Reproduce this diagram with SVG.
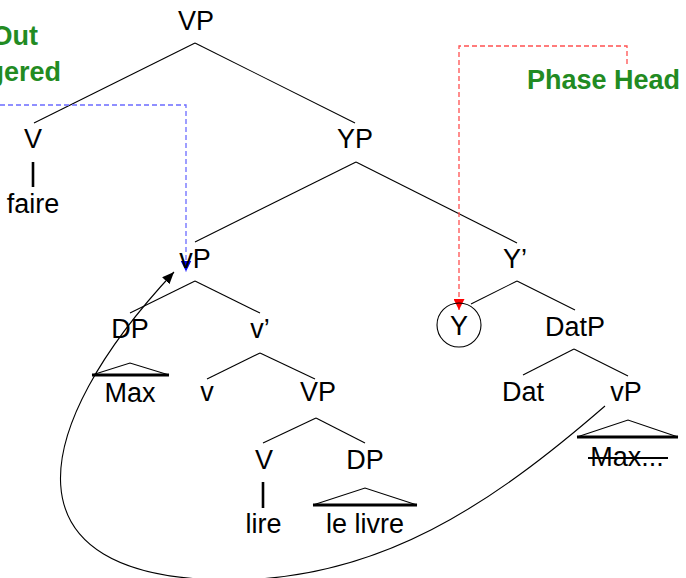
<svg xmlns="http://www.w3.org/2000/svg" width="686" height="578" viewBox="0 0 686 578">
  <style>
    text { font-family: "Liberation Sans", Arial, sans-serif; font-size: 27px; fill: #000; text-anchor: middle; }
    .lbl { font-weight: bold; fill: #228b22; }
    .edge { stroke: #000; stroke-width: 1.1; fill: none; }
    .stem { stroke: #000; stroke-width: 2.6; fill: none; }
    .tri { stroke: #000; stroke-width: 1.1; fill: none; }
    .base { stroke: #000; stroke-width: 3; }
    .move { stroke: #000; stroke-width: 1.1; fill: none; }
    .blue { stroke: #6b6bff; stroke-width: 1.3; fill: none; stroke-dasharray: 5 3; }
    .red { stroke: #ff5050; stroke-width: 1.3; fill: none; stroke-dasharray: 5 3; }
  </style>
  <defs>
    <marker id="arrBlack" markerUnits="userSpaceOnUse" viewBox="0 0 12 10" refX="12" refY="5" markerWidth="12" markerHeight="10" orient="auto">
      <path d="M0,0 L12,5 L0,10 z" fill="#000"/>
    </marker>
    <marker id="arrBlue" markerUnits="userSpaceOnUse" viewBox="0 0 11 11" refX="11" refY="5.5" markerWidth="11" markerHeight="11" orient="auto">
      <path d="M0,0 L11,5.5 L0,11 z" fill="#0000ff"/>
    </marker>
    <marker id="arrRed" markerUnits="userSpaceOnUse" viewBox="0 0 11 11" refX="11" refY="5.5" markerWidth="11" markerHeight="11" orient="auto">
      <path d="M0,0 L11,5.5 L0,11 z" fill="#ff0000"/>
    </marker>
  </defs>

  <!-- tree branches -->
  <g id="connectors">
    <line class="edge" x1="195" y1="43" x2="34" y2="123"/>
    <line class="edge" x1="195" y1="43" x2="355" y2="123"/>
    <line class="stem" x1="33" y1="162" x2="33" y2="187"/>
    <line class="edge" x1="356" y1="162" x2="195" y2="242"/>
    <line class="edge" x1="356" y1="162" x2="517" y2="243"/>
    <line class="edge" x1="195" y1="281" x2="130" y2="313"/>
    <line class="edge" x1="195" y1="281" x2="260" y2="313"/>
    <line class="edge" x1="517" y1="281" x2="471" y2="304"/>
    <line class="edge" x1="517" y1="281" x2="575" y2="310"/>
    <line class="edge" x1="260" y1="353" x2="207" y2="379"/>
    <line class="edge" x1="260" y1="353" x2="315" y2="379"/>
    <line class="edge" x1="574" y1="349" x2="523" y2="375"/>
    <line class="edge" x1="574" y1="349" x2="628" y2="376"/>
    <line class="edge" x1="316" y1="418" x2="263" y2="443"/>
    <line class="edge" x1="316" y1="418" x2="365" y2="443"/>
    <line class="stem" x1="263" y1="482" x2="263" y2="508"/>

    <!-- movement arrow from the embedded vP back up to the higher vP -->
    <path class="move" d="M605,406 C492,504 380,580 230,580 C0,580 27.2,429.2 174,272" marker-end="url(#arrBlack)"/>

    <!-- dashed pointers from the annotations -->
    <path class="blue" d="M0,105 H186 V271.5" marker-end="url(#arrBlue)"/>
    <path class="red" d="M627,64 V46 H459 V310" marker-end="url(#arrRed)"/>
  </g>

  <!-- annotations -->
  <g id="label-spellout">
    <text class="lbl" x="38" y="45" style="text-anchor:end">Out</text>
    <text class="lbl" x="61" y="81" style="text-anchor:end">gered</text>
  </g>
  <g id="label-phasehead">
    <text class="lbl" x="527" y="89" style="text-anchor:start">Phase Head</text>
  </g>

  <!-- nodes -->
  <g id="node-VP-top"><text x="196" y="30">VP</text></g>
  <g id="node-V-top"><text x="33" y="148">V</text></g>
  <g id="node-faire"><text x="33" y="213">faire</text></g>
  <g id="node-YP"><text x="355" y="148">YP</text></g>
  <g id="node-vP-high"><text x="195" y="268">vP</text></g>
  <g id="node-Ybar"><text x="515" y="268">Y’</text></g>
  <g id="node-DP-Max"><text x="130" y="338">DP</text></g>
  <g id="node-vbar"><text x="260" y="338">v’</text></g>
  <g id="node-Y">
    <circle cx="459" cy="325" r="22" fill="none" stroke="#000" stroke-width="1.1"/>
    <text x="459" y="335">Y</text>
  </g>
  <g id="node-DatP"><text x="575" y="336">DatP</text></g>
  <g id="node-Max">
    <polyline class="tri" points="92,375 130,363 169,375"/>
    <line class="base" x1="92" y1="375" x2="169" y2="375"/>
    <text x="130" y="402">Max</text>
  </g>
  <g id="node-v"><text x="207" y="401">v</text></g>
  <g id="node-VP-low"><text x="318" y="401">VP</text></g>
  <g id="node-Dat"><text x="523" y="401">Dat</text></g>
  <g id="node-vP-low"><text x="626" y="401">vP</text></g>
  <g id="node-Max-copy">
    <polyline class="tri" points="577,437 628,420 678,437"/>
    <line class="base" x1="577" y1="437" x2="678" y2="437"/>
    <text x="627" y="466">Max...</text>
    <line x1="588" y1="458" x2="668" y2="458" stroke="#000" stroke-width="2"/>
  </g>
  <g id="node-V-low"><text x="264" y="469">V</text></g>
  <g id="node-DP-low"><text x="365" y="469">DP</text></g>
  <g id="node-lire"><text x="263.5" y="533">lire</text></g>
  <g id="node-le-livre">
    <polyline class="tri" points="313,505 365,488 417,505"/>
    <line class="base" x1="313" y1="505" x2="417" y2="505"/>
    <text x="365" y="533">le livre</text>
  </g>
</svg>
